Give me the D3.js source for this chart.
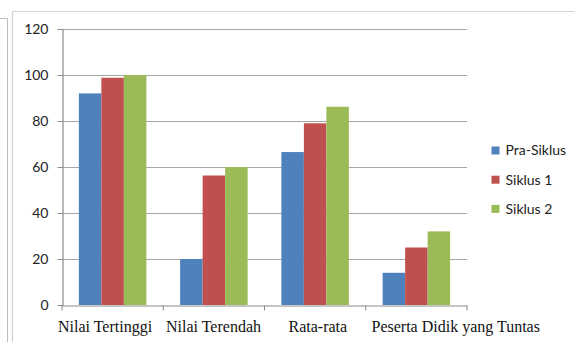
<!DOCTYPE html>
<html>
<head>
<meta charset="utf-8">
<script src="https://cdn.jsdelivr.net/npm/d3@7"></script>
<style>
  html, body { margin: 0; padding: 0; background: #fff; }
  svg { display: block; }
</style>
</head>
<body>
<svg id="chart" width="574" height="342"></svg>
<script>
// Chart data
const categories = ["Nilai Tertinggi", "Nilai Terendah", "Rata-rata", "Peserta Didik yang Tuntas"];
const seriesNames = ["Pra-Siklus", "Siklus 1", "Siklus 2"];
const praSiklus = [92, 20, 66.5, 14];
const siklus1 = [98.8, 56.3, 79, 25];
const siklus2 = [100, 60, 86.2, 32];
const yTicks = [0, 20, 40, 60, 80, 100, 120];

const seriesValues = [praSiklus, siklus1, siklus2];
const colors = ["#4F81BD", "#C0504D", "#9BBB59"];

const svg = d3.select("#chart");

// Page frame lines
svg.append("line").attr("x1", 0).attr("x2", 7.5).attr("y1", 18.5).attr("y2", 18.5)
  .attr("stroke", "#bdbdbd").attr("stroke-width", 1);
svg.append("line").attr("x1", 7.5).attr("x2", 7.5).attr("y1", 18.5).attr("y2", 342)
  .attr("stroke", "#bdbdbd").attr("stroke-width", 1);
// Chart area border
svg.append("line").attr("x1", 12.5).attr("x2", 574).attr("y1", 11.5).attr("y2", 11.5)
  .attr("stroke", "#d4d4d4").attr("stroke-width", 1.2);
svg.append("line").attr("x1", 12.5).attr("x2", 12.5).attr("y1", 11.5).attr("y2", 342)
  .attr("stroke", "#cfcfcf").attr("stroke-width", 1.2);

const plot = { left: 62, right: 467, top: 29, bottom: 305 };

const x = d3.scaleBand().domain(categories).range([plot.left, plot.right])
  .paddingInner(1 / 3).paddingOuter(1 / 6);
const xs = d3.scaleBand().domain(d3.range(seriesNames.length)).range([0, x.bandwidth()]);
const y = d3.scaleLinear().domain([0, 120]).range([plot.bottom, plot.top]);

// Gridlines
svg.append("g").selectAll("line").data(yTicks.filter(d => d > 0)).join("line")
  .attr("x1", plot.left).attr("x2", plot.right)
  .attr("y1", d => Math.round(y(d)) + 0.5).attr("y2", d => Math.round(y(d)) + 0.5)
  .attr("stroke", "#a6a6a6").attr("stroke-width", 1.2);

// Bars
const groups = svg.append("g").selectAll("g").data(categories).join("g")
  .attr("transform", d => `translate(${x(d)},0)`);
groups.selectAll("rect")
  .data((c, i) => seriesValues.map((vals, s) => ({ s, v: vals[i] })))
  .join("rect")
  .attr("x", d => xs(d.s))
  .attr("width", xs.bandwidth())
  .attr("y", d => y(d.v))
  .attr("height", d => y(0) - y(d.v))
  .attr("fill", d => colors[d.s]);

// Y axis
const yAxis = svg.append("g").attr("transform", `translate(${plot.left + 0.5},0)`)
  .call(d3.axisLeft(y).tickValues(yTicks).tickSize(5).tickPadding(9).tickFormat(d3.format("d")));
yAxis.select(".domain").attr("stroke", "#8c8c8c").attr("stroke-width", 1.2);
yAxis.selectAll(".tick line").attr("stroke", "#8c8c8c");
yAxis.selectAll("text").attr("font-family", "Lato, 'Open Sans', sans-serif")
  .attr("font-size", 14).attr("fill", "#222");

// X axis
const xAxis = svg.append("g").attr("transform", `translate(0,${plot.bottom + 0.5})`)
  .call(d3.axisBottom(x.copy().paddingInner(0).paddingOuter(0)).tickSize(0).tickFormat(""));
xAxis.select(".domain").attr("stroke", "#8c8c8c").attr("stroke-width", 1.2);
xAxis.selectAll(".tick").remove();
const step = x.step();
const boundaries = d3.range(categories.length + 1).map(i => plot.left + i * step);
xAxis.selectAll("line.cat").data(boundaries).join("line").attr("class", "cat")
  .attr("x1", d => d).attr("x2", d => d).attr("y1", 0).attr("y2", 5)
  .attr("stroke", "#8c8c8c");

// Category labels (serif, set below the axis)
const labelStarts = [58, 166, 288.5, 371.5];
svg.append("g").selectAll("text").data(categories).join("text")
  .attr("x", (d, i) => labelStarts[i]).attr("y", 331.5)
  .attr("font-family", "'Liberation Serif', 'Times New Roman', serif")
  .attr("font-size", 16).attr("fill", "#111")
  .text(d => d);

// Legend
const legend = svg.append("g").selectAll("g").data(seriesNames).join("g")
  .attr("transform", (d, i) => `translate(491.5,${146.5 + i * 29.2})`);
legend.append("rect").attr("width", 8).attr("height", 8).attr("fill", (d, i) => colors[i]);
legend.append("text").attr("x", 14).attr("y", 4).attr("dy", "0.35em")
  .attr("font-family", "Lato, 'Open Sans', sans-serif").attr("font-size", 14)
  .attr("fill", "#222").text(d => d);
</script>
</body>
</html>
